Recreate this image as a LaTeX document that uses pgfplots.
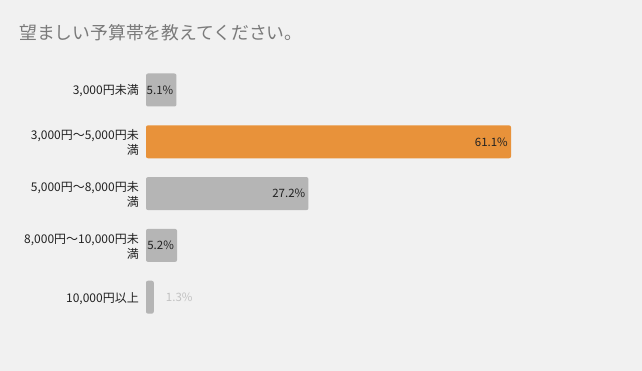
\documentclass[border=0pt]{standalone}
\usepackage{pgfplots}
\pgfplotsset{compat=1.18}
\usepackage{fontspec}
\setmainfont{Noto Sans CJK JP}
\definecolor{bg}{HTML}{F1F1F1}
\definecolor{barg}{HTML}{B5B5B5}
\definecolor{baro}{HTML}{E8923A}
\definecolor{titlec}{HTML}{7A7A7A}
\definecolor{lblc}{HTML}{222222}
\definecolor{outc}{HTML}{C2C2C2}
\begin{document}
\begin{tikzpicture}[x=1pt,y=1pt]
\fill[bg] (0,0) rectangle (642,371);
\node[anchor=west,inner sep=0pt,text=titlec,font=\fontsize{17.8}{19}\selectfont] at (19,338) {望ましい予算帯を教えてください。};
\begin{axis}[
  at={(146pt,47.9pt)}, anchor=south west,
  scale only axis, width=365pt, height=259pt,
  xmin=0, xmax=61.1, ymin=0.5, ymax=5.5, y dir=reverse,
  xbar, bar width=33pt,
  axis line style={draw=none}, major tick length=0pt,
  xtick=\empty, ytick={1,2,3,4,5},
  yticklabels={{3,000円未満},{3,000円～5,000円未\\満},{5,000円～8,000円未\\満},{8,000円～10,000円未\\満},{10,000円以上}},
  yticklabel style={align=right, inner sep=0pt, xshift=-7pt, yshift=-1pt, text=lblc, font=\fontsize{12}{15}\selectfont},
  clip=false,
  /pgf/number format/assume math mode=true,
  point meta=x,
  nodes near coords={\pgfmathprintnumber[fixed,precision=1,fixed zerofill]{\pgfplotspointmeta}\%},
  every node near coord/.append style={font=\fontsize{11.5}{13}\selectfont, text=lblc, anchor=east, inner sep=0pt, xshift=-3pt},
]
\addplot[fill=barg, draw=none, bar shift=0pt, rounded corners=2pt] coordinates {(5.1,1) (27.2,3) (5.2,4)};
\addplot[fill=baro, draw=none, bar shift=0pt, rounded corners=2pt] coordinates {(61.1,2)};
\addplot[fill=barg, draw=none, bar shift=0pt, rounded corners=2pt,
  every node near coord/.append style={anchor=west, xshift=15pt, text=outc}] coordinates {(1.3,5)};
\end{axis}
\pgfresetboundingbox
\path[use as bounding box] (0,0) rectangle (642,371);
\end{tikzpicture}
\end{document}
